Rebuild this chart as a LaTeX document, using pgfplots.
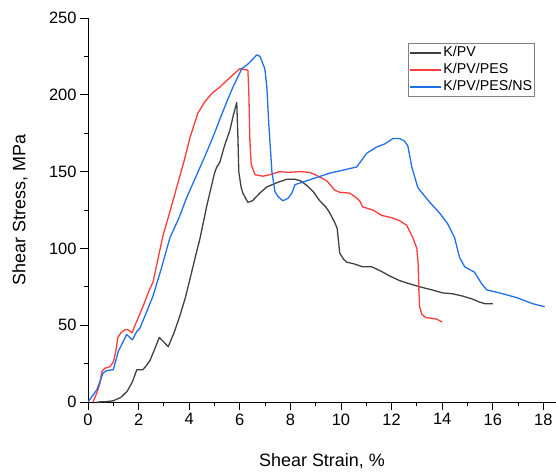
\documentclass[border=0pt]{standalone}
\usepackage{fontspec}
\setmainfont{Liberation Sans}
\usepackage{pgfplots}
\pgfplotsset{compat=1.18}
\definecolor{cblack}{HTML}{404040}
\definecolor{cred}{HTML}{FF3B3B}
\definecolor{cblue}{HTML}{1F6FE8}
\begin{document}
\begin{tikzpicture}
\useasboundingbox (-88bp,-71bp) rectangle (468bp,402bp);
\begin{axis}[
  at={(0,0)}, anchor=south west,
  scale only axis, width=468bp, height=384bp,
  xmin=0, xmax=18.5, ymin=0, ymax=250,
  axis x line*=bottom, axis y line*=left,
  axis line style={line width=0.9pt, black},
  xtick={0,2,...,18}, ytick={0,50,...,250},
  minor x tick num=1, minor y tick num=1,
  tick align=outside, major tick length=8bp, minor tick length=4bp,
  every tick/.style={line width=0.9pt, black},
  /pgf/number format/assume math mode=true,
  ticklabel style={font=\fontsize{16.5}{18}\selectfont},
  xlabel={Shear Strain, \%}, ylabel={Shear Stress, MPa},
  label style={font=\fontsize{18}{20}\selectfont},
  xlabel style={at={(axis description cs:0.5,0)}, anchor=center, yshift=-59bp},
  ylabel style={at={([xshift=-68bp]axis description cs:0,0.5)}, anchor=center},
  legend style={at={(axis description cs:0.955,0.935)}, anchor=north east,
    draw=gray, line width=0.8pt, inner xsep=1bp, inner ysep=1bp,
    font=\fontsize{14.3}{16}\selectfont,
    nodes={inner sep=1.5bp, text height=11bp, text depth=3bp}},
  legend cell align=left,
  legend image code/.code={\draw[#1, line width=1.3pt] (0bp,0bp) -- (31bp,0bp);},
  every axis plot/.append style={line width=1.3pt, line join=round},
]
\addplot[cblack] coordinates {
(0.35,0) (0.7,0.2) (1.0,0.8) (1.3,3) (1.55,7) (1.75,13) (1.93,21) (2.17,21) (2.32,24) (2.45,27) (2.6,33) (2.82,42) (3.0,39) (3.17,36) (3.4,45) (3.63,56) (3.85,68) (4.03,80) (4.25,95) (4.42,106) (4.7,128) (5.0,149) (5.09,153) (5.21,156) (5.4,167) (5.61,177) (5.75,187) (5.88,195) (5.93,170) (5.96,150) (6.05,140) (6.12,136) (6.32,130) (6.5,131) (6.79,136) (7.07,140) (7.5,143) (7.86,145) (8.18,145) (8.4,144) (8.65,141) (8.9,137) (9.16,131) (9.4,127) (9.56,123) (9.75,117) (9.85,113) (9.9,105) (9.95,97) (10.1,93) (10.23,91) (10.5,90) (10.86,88) (11.22,88) (11.6,85) (11.93,82) (12.32,79) (12.7,77) (13.11,75) (13.6,73) (14.02,71) (14.4,70.5) (14.8,69) (15.2,67) (15.48,65) (15.7,64) (16.0,64)
};
\addlegendentry{K/PV}
\addplot[cred] coordinates {
(0.2,0) (0.35,6) (0.47,12) (0.55,20) (0.67,22) (0.87,23) (1.0,26) (1.1,33) (1.18,42) (1.3,45) (1.46,47) (1.58,47) (1.74,45) (1.86,50) (2.17,62) (2.4,72) (2.57,78) (2.75,92) (2.96,108) (3.36,131) (3.51,140) (3.8,157) (4.03,172) (4.34,188) (4.6,195) (4.9,201) (5.21,205) (5.4,208) (5.73,213) (6.0,217) (6.32,216) (6.36,200) (6.4,170) (6.45,155) (6.6,148) (6.91,147) (7.19,148) (7.58,150) (7.9,149.5) (8.37,150) (8.77,149.5) (9.04,147.5) (9.44,144) (9.75,138) (9.95,136.5) (10.35,136) (10.6,133) (10.74,131) (10.86,127) (11.26,125) (11.6,121.5) (12.0,120) (12.32,118) (12.6,115) (12.84,107) (13.0,100) (13.05,90) (13.08,73) (13.11,62) (13.2,57) (13.35,55) (13.78,54) (14.0,52)
};
\addlegendentry{K/PV/PES}
\addplot[cblue] coordinates {
(0,0) (0.35,8) (0.6,19) (0.75,20.5) (1.0,21) (1.1,27) (1.2,33) (1.53,44) (1.65,42) (1.76,40.5) (1.93,46) (2.05,48) (2.3,58) (2.57,69) (2.9,87) (3.24,107) (3.6,120) (3.9,133) (4.3,148) (4.7,163) (5.0,175) (5.21,184) (5.5,196) (5.73,205) (6.08,217) (6.32,220) (6.5,223) (6.67,226) (6.8,225) (6.99,217) (7.07,205) (7.15,180) (7.27,150) (7.39,137) (7.5,134) (7.7,131) (7.9,132.5) (8.06,136) (8.18,141.5) (9.56,149) (10.62,153) (10.8,157) (11.02,162) (11.41,166) (11.73,168) (12.05,171.5) (12.32,171.5) (12.5,170) (12.64,167) (12.72,160) (12.8,153) (13.03,140) (13.11,138) (13.51,130) (13.9,123) (14.22,116) (14.49,107) (14.69,94) (14.89,88) (15.28,84.5) (15.56,77) (15.76,73) (16.27,71) (16.94,68) (17.58,64) (18.05,62)
};
\addlegendentry{K/PV/PES/NS}
\end{axis}
\end{tikzpicture}
\end{document}
